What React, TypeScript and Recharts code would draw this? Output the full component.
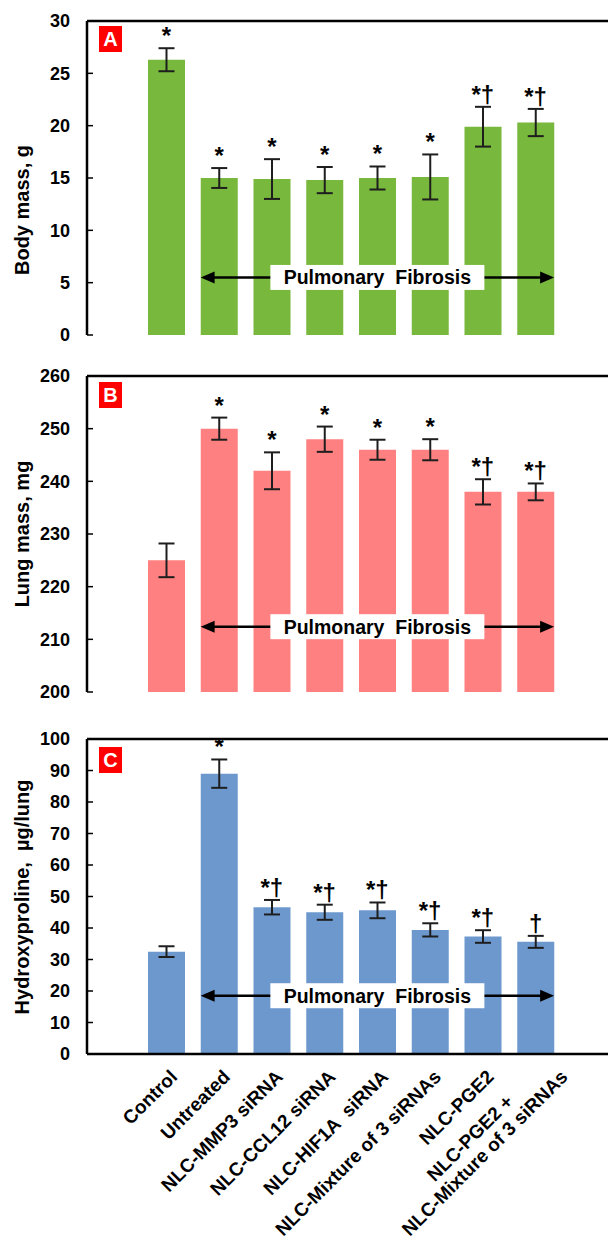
import React from 'react';
import { ComposedChart, Bar, Line, XAxis, YAxis, ErrorBar, LabelList, ReferenceLine } from 'recharts';

const FONT = '"Liberation Sans", Arial, sans-serif';

// treatment groups (x categories), "\n" = line break in the tick label
const groups = [
    'Control',
    'Untreated',
    'NLC-MMP3 siRNA',
    'NLC-CCL12 siRNA',
    'NLC-HIF1A  siRNA',
    'NLC-Mixture of 3 siRNAs',
    'NLC-PGE2',
    'NLC-PGE2 +\nNLC-Mixture of 3 siRNAs',
];

// A: body mass, g
const bodyMass = [26.3, 15.0, 14.9, 14.8, 15.0, 15.1, 19.9, 20.3];
const bodyMassErr = [1.1, 0.95, 1.9, 1.25, 1.1, 2.15, 1.9, 1.3];
const bodyMassSig = ['*', '*', '*', '*', '*', '*', '*†', '*†'];
const bodyMassTicks = [0, 5, 10, 15, 20, 25, 30];

// B: lung mass, mg
const lungMass = [225, 250, 242, 248, 246, 246, 238, 238];
const lungMassErr = [3.2, 2.1, 3.5, 2.4, 1.9, 2.0, 2.4, 1.6];
const lungMassSig = ['', '*', '*', '*', '*', '*', '*†', '*†'];
const lungMassTicks = [200, 210, 220, 230, 240, 250, 260];

// C: hydroxyproline, µg/lung
const hydroxyproline = [32.5, 89.0, 46.6, 45.0, 45.6, 39.4, 37.3, 35.6];
const hydroxyprolineErr = [1.7, 4.5, 2.3, 2.4, 2.5, 2.1, 2.0, 1.9];
const hydroxyprolineSig = ['', '*', '*†', '*†', '*†', '*†', '*†', '†'];
const hydroxyprolineTicks = [0, 10, 20, 30, 40, 50, 60, 70, 80, 90, 100];

const LABEL_SIZE = 19;

let ctx: CanvasRenderingContext2D | null = null;
const textWidth = (s: string, font: string) => {
    if (!ctx) ctx = document.createElement('canvas').getContext('2d');
    if (!ctx) return s.length * 10;
    ctx.font = font;
    return ctx.measureText(s).width;
};

const GroupTick = (p: any) => {
    const lines = String(p.payload.value).split('\n');
    const widths = lines.map(l => textWidth(l, `bold ${LABEL_SIZE}px ${FONT}`));
    const maxW = Math.max(...widths);
    const n = lines.length;
    const lh = 21;
    const shift = 15 * (n - 1);
    return (
        <g transform={`translate(${p.x + 12},${p.y + 24}) rotate(-45)`}>
            {lines.map((l, i) => (
                <text
                    key={i}
                    x={shift - (maxW - widths[i]) / 2}
                    y={(i - (n - 1)) * lh + shift}
                    textAnchor="end"
                    fontSize={LABEL_SIZE}
                    fontWeight="bold"
                    fontFamily={FONT}
                    fill="#000"
                    style={{ whiteSpace: 'pre' }}
                >
                    {l}
                </text>
            ))}
        </g>
    );
};

const SigLabel = (p: any) => {
    if (!p.value) return null;
    const vb = p.viewBox || {};
    const x = vb.x != null ? vb.x + (vb.width || 0) / 2 : p.x;
    const y = vb.y != null ? vb.y : p.y;
    return (
        <text x={x} y={y - 4} textAnchor="middle" fontSize={24} fontWeight="bold" fontFamily={FONT} fill="#000">
            {p.value}
        </text>
    );
};

const FibrosisArrow = (p: any) => {
    const left = p.x1 - 18.5;
    const right = p.x2 + 18.5;
    const y = p.y1;
    const mid = (left + right) / 2;
    return (
        <g>
            <line x1={left + 10} x2={right - 10} y1={y} y2={y} stroke="#000" strokeWidth={2.5} />
            <polygon points={`${left},${y} ${left + 14},${y - 6} ${left + 14},${y + 6}`} fill="#000" />
            <polygon points={`${right},${y} ${right - 14},${y - 6} ${right - 14},${y + 6}`} fill="#000" />
            <rect x={mid - 107} y={y - 12.5} width={214} height={25} fill="#fff" />
            <text
                x={mid}
                y={y}
                dy="0.36em"
                textAnchor="middle"
                fontSize={19.5}
                fontWeight="bold"
                fontFamily={FONT}
                fill="#000"
                style={{ whiteSpace: 'pre' }}
            >
                {'Pulmonary  Fibrosis'}
            </text>
        </g>
    );
};

interface PanelProps {
    top: number;
    height: number;
    marginTop: number;
    marginBottom: number;
    values: number[];
    errors: number[];
    marks: string[];
    ticks: number[];
    color: string;
    letter: string;
    letterTop: number;
    title: string;
    titleY: number;
    arrowY: number;
    xLabels?: boolean;
}

const Panel: React.FC<PanelProps> = (props) => {
    const { top, height, marginTop, marginBottom, values, errors, marks, ticks, color, letter, letterTop, title, titleY, arrowY, xLabels } = props;
    const data = groups.map((g, i) => ({
        name: g,
        value: values[i],
        err: errors[i],
        top: values[i] + errors[i],
        sig: marks[i],
    }));
    const domain: [number, number] = [ticks[0], ticks[ticks.length - 1]];

    return (
        <div style={{ position: 'absolute', left: 0, top, width: 640, height }}>
            <ComposedChart
                width={640}
                height={height}
                data={data}
                margin={{ top: marginTop, right: 25, bottom: marginBottom, left: 0 }}
            >
                <XAxis
                    dataKey="name"
                    padding={{ left: 53, right: 53 }}
                    axisLine={{ stroke: '#000', strokeWidth: 2.5 }}
                    tickLine={false}
                    tickSize={0}
                    tickMargin={0}
                    interval={0}
                    height={xLabels ? 199 : 0}
                    tick={xLabels ? <GroupTick /> : false}
                />
                <YAxis
                    type="number"
                    width={87}
                    domain={domain}
                    ticks={ticks}
                    interval={0}
                    allowDataOverflow
                    axisLine={{ stroke: '#000', strokeWidth: 2.5 }}
                    tickLine={{ stroke: '#000', strokeWidth: 1.5 }}
                    tickSize={-6}
                    tickMargin={23}
                    tick={{ fill: '#000', fontSize: 18, fontWeight: 'bold', fontFamily: FONT }}
                />
                <ReferenceLine y={domain[1]} stroke="#000" strokeWidth={2.5} />
                <Bar dataKey="value" fill={color} barSize={37} isAnimationActive={false}>
                    <ErrorBar dataKey="err" width={8} stroke="#1e1e1e" strokeWidth={2} />
                </Bar>
                <Line dataKey="top" stroke="none" dot={false} activeDot={false} isAnimationActive={false}>
                    <LabelList dataKey="sig" content={SigLabel} />
                </Line>
                <ReferenceLine
                    segment={[{ x: groups[1], y: arrowY }, { x: groups[7], y: arrowY }]}
                    shape={FibrosisArrow}
                />
                <text
                    x={29}
                    y={titleY}
                    transform={`rotate(-90, 29, ${titleY})`}
                    textAnchor="middle"
                    fontSize={20}
                    fontWeight="bold"
                    fontFamily={FONT}
                    fill="#000"
                    style={{ whiteSpace: 'pre' }}
                >
                    {title}
                </text>
            </ComposedChart>
            <div
                style={{
                    position: 'absolute',
                    left: 99,
                    top: letterTop,
                    width: 23,
                    height: 26,
                    background: '#ff0000',
                    color: '#fff',
                    fontFamily: FONT,
                    fontWeight: 'bold',
                    fontSize: 20,
                    lineHeight: '26px',
                    textAlign: 'center',
                }}
            >
                {letter}
            </div>
        </div>
    );
};

export default function App() {
    return (
        <div style={{ position: 'absolute', left: 0, top: 0, width: 608, height: 1253, overflow: 'hidden', background: '#fff' }}>
            <Panel
                top={0}
                height={355}
                marginTop={21}
                marginBottom={20}
                values={bodyMass}
                errors={bodyMassErr}
                marks={bodyMassSig}
                ticks={bodyMassTicks}
                color="#78b83c"
                letter="A"
                letterTop={26}
                title="Body mass, g"
                titleY={210}
                arrowY={5.5}
            />
            <Panel
                top={350}
                height={362}
                marginTop={26}
                marginBottom={20}
                values={lungMass}
                errors={lungMassErr}
                marks={lungMassSig}
                ticks={lungMassTicks}
                color="#ff8080"
                letter="B"
                letterTop={32}
                title="Lung mass, mg"
                titleY={184}
                arrowY={212.4}
            />
            <Panel
                top={700}
                height={553}
                marginTop={39}
                marginBottom={0}
                values={hydroxyproline}
                errors={hydroxyprolineErr}
                marks={hydroxyprolineSig}
                ticks={hydroxyprolineTicks}
                color="#6d98ce"
                letter="C"
                letterTop={47}
                title="Hydroxyproline,  µg/lung"
                titleY={197}
                arrowY={18.5}
                xLabels
            />
        </div>
    );
}
